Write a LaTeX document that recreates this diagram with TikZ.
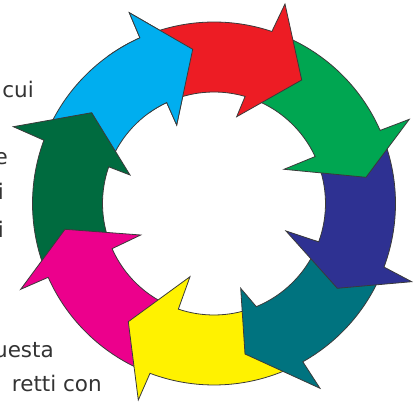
\documentclass[tikz,border=0pt]{standalone}
\usepackage{fontspec}
\setmainfont{DejaVu Sans}
\definecolor{ringline}{HTML}{3A3A3A}
\definecolor{txtgray}{HTML}{333333}
\definecolor{acyan}{HTML}{00AEEF}
\definecolor{ared}{HTML}{ED1C24}
\definecolor{agreen}{HTML}{00A651}
\definecolor{ablue}{HTML}{2E3192}
\definecolor{ateal}{HTML}{00737F}
\definecolor{ayellow}{HTML}{FFF200}
\definecolor{amagenta}{HTML}{EC008C}
\definecolor{adkgreen}{HTML}{006B3F}
% #1 colour, #2 tail outer angle, #3 outer notch angle, #4 outer barb,
% #5 tip, #6 inner barb, #7 inner notch angle, #8 tail inner angle
\newcommand\ringarrow[8]{%
  \path[ringpart, fill=#1] (#2:181.5) arc[start angle=#2, end angle=#3, radius=181.5pt]
    -- (#4) -- (#5) -- (#6) -- (#7:111.5)
    arc[start angle=#7, end angle=#8, radius=111.5pt] -- cycle;}
\begin{document}
\begin{tikzpicture}[x=1pt,y=1pt,
  ringpart/.style={draw=ringline, line width=0.8pt, line join=miter},
  txt/.style={text=txtgray, font=\fontsize{21.5}{25}\selectfont, inner sep=0pt, anchor=base east}]
\useasboundingbox (0,0) rectangle (416,407);
\clip (0,0) rectangle (416,407);
% left text fragments (cut by the picture edge)
\node[txt] (t1) at (34,309) {cui};
\node[txt] (t2) at (8,242) {e};
\node[txt] (t3) at (4,207) {i};
\node[txt] (t4) at (4,169) {i};
\node[txt] (t5) at (54,49) {uesta};
\node[txt] (t6) at (102,15) {retti con};
\begin{scope}[shift={(214,203.5)}]
  % cyan
  \ringarrow{acyan}{157.1}{114.1}{-84.7,190.8}{-21.3,154.2}{-37.3,78.5}{115.1}{158.3}
  % dark green
  \ringarrow{adkgreen}{201.5}{159.6}{-200.7,76.8}{-122.3,90.8}{-84,28.5}{160.8}{201.4}
  % magenta
  \ringarrow{amagenta}{-113.15}{-156.0}{-193.3,-85.8}{-149,-25.8}{-73.3,-31.5}{-156.1}{-111.15}
  % yellow
  \ringarrow{ayellow}{-63.2}{-110.65}{-75.7,-196.5}{-85.7,-118.2}{-24,-73.2}{-108.65}{-70.2}
  % teal
  \ringarrow{ateal}{-23.0}{-60.7}{106,-184.8}{31,-150.5}{26.7,-84.8}{-67.7}{-22.6}
  % blue
  \ringarrow{ablue}{21.25}{-20.5}{197.7,-78.2}{123.3,-84.8}{72,-27.5}{-20.1}{22.4}
  % green
  \ringarrow{agreen}{68.9}{23.75}{195.3,84.2}{152,26.2}{70,34.2}{24.9}{71.3}
  % red
  \ringarrow{ared}{111.6}{71.4}{71,199.5}{87.7,123.5}{22.7,86.8}{73.8}{112.6}
  % cyan head again, over the red tail
  \begin{scope}
    \clip (0,0) -- (88:280) -- (126:280) -- cycle;
    \ringarrow{acyan}{157.1}{114.1}{-84.7,190.8}{-21.3,154.2}{-37.3,78.5}{115.1}{158.3}
  \end{scope}
\end{scope}
\end{tikzpicture}
\end{document}
